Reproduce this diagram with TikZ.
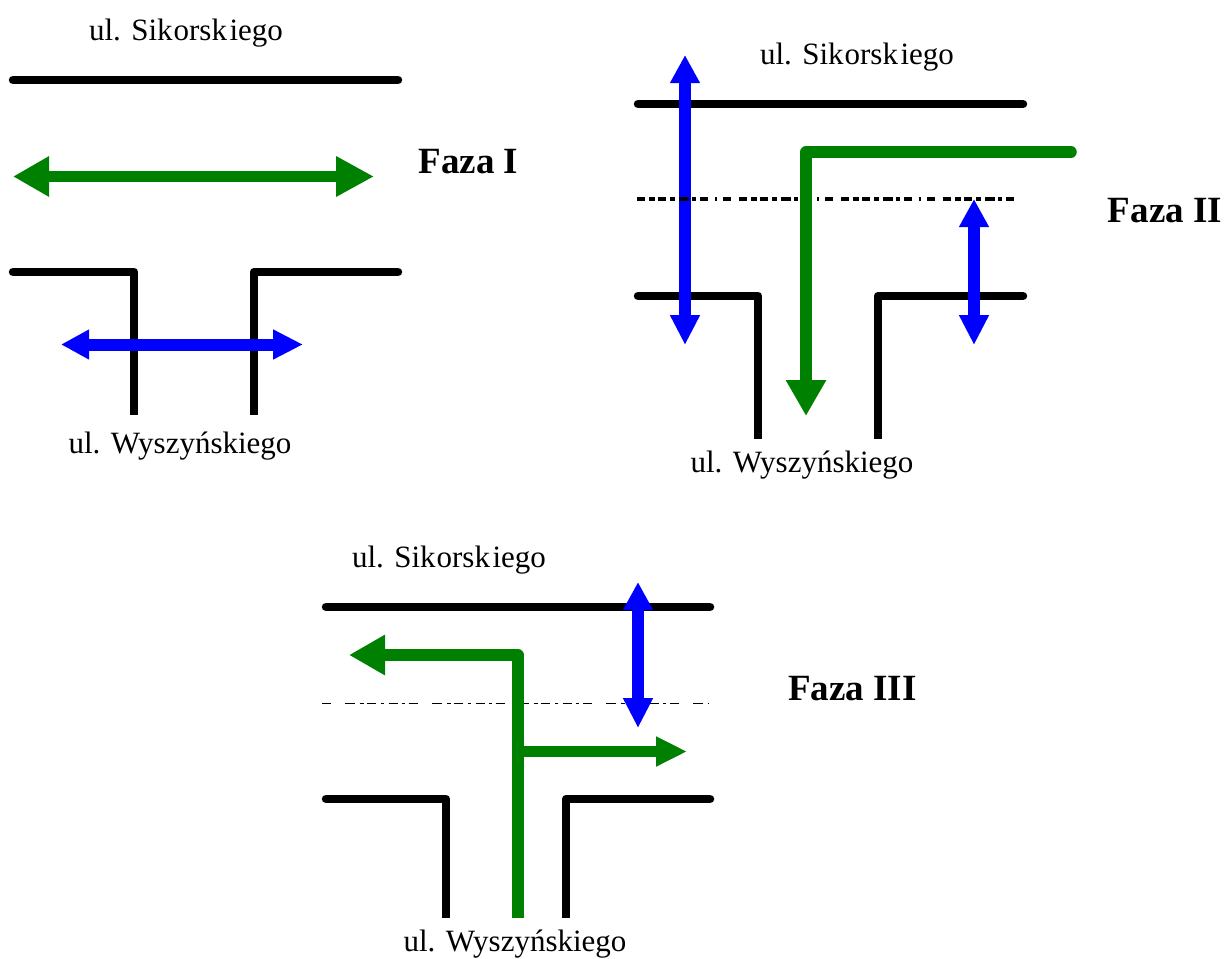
\documentclass[tikz,border=0pt]{standalone}
\usepackage{fontspec}
\setmainfont{Liberation Serif}
\usetikzlibrary{arrows.meta}
\definecolor{roadgreen}{RGB}{0,128,0}
\definecolor{roadblue}{RGB}{0,0,255}
\newcommand{\sikname}{ul. Sik\kern1pt orsk\kern2.5pt iego}
\tikzset{
  road/.style={line width=8.5pt,black,line cap=round,line join=round},
  roadend/.style={line width=8.5pt,black,line join=round},
  gflow/.style={line width=11.5pt,roadgreen,line join=round},
  gbig/.style={gflow,-{Triangle[length=36pt,width=38pt]}},
  gbigboth/.style={gflow,{Triangle[length=36pt,width=38pt]}-{Triangle[length=38pt,width=38pt]}},
  gsmall/.style={gflow,-{Triangle[length=31pt,width=28pt]}},
  bflow/.style={line width=12pt,roadblue,{Triangle[length=28pt,width=28pt]}-{Triangle[length=30pt,width=28pt]}},
  lbl/.style={font=\fontsize{31}{34}\selectfont,inner sep=0pt,anchor=center},
  phase/.style={font=\fontsize{37}{40}\selectfont\bfseries,inner sep=0pt,anchor=center},
  centre/.style={line width=1.6pt,black,dash pattern=on 9.5pt off 5pt on 4pt off 3pt on 9pt off 5pt on 3pt off 5pt on 9pt off 4pt on 3pt off 4pt on 9pt off 14.5pt,dash phase=64pt},
  centrethick/.style={line width=4pt,black,dash pattern=on 8pt off 4pt on 6pt off 3pt on 8pt off 4pt on 5pt off 4pt on 10pt off 3pt on 4pt off 4pt on 8pt off 7pt on 2pt off 6pt on 8pt off 8pt}
}
\begin{document}
\begin{tikzpicture}[x=1pt,y=-1pt]
\useasboundingbox (0,0) rectangle (1225,958);
% Faza I
\draw[road] (13,80) -- (398,80);
\draw[roadend] (13,272) -- (134,272) -- (134,415);
\draw[road] (13,272) -- (60,272);
\draw[roadend] (398,272) -- (254,272) -- (254,415);
\draw[road] (398,272) -- (350,272);
\draw[gbigboth] (13,176.5) -- (374,176.5);
\draw[bflow] (61,344.5) -- (303,344.5);
\node[lbl] (s1) at (186,33) {\sikname};
\node[lbl] (w1) at (180,446) {ul. Wyszyńskiego};
\node[phase] (f1) at (468.5,162) {Faza I};
% Faza II
\draw[road] (638,104) -- (1023,104);
\draw[roadend] (638,296) -- (758,296) -- (758,439);
\draw[road] (638,296) -- (680,296);
\draw[roadend] (1023,296) -- (878,296) -- (878,439);
\draw[road] (1023,296) -- (980,296);
\draw[bflow] (685,55) -- (685,345);
\draw[centrethick] (637,199) -- (1020,199);
\draw[gflow,line cap=round] (1071,152) -- (1000,152);
\draw[gbig] (1071,152) -- (806,152) -- (806,416);
\draw[bflow] (974,199) -- (974,345);
\node[lbl] (s2) at (857,57) {\sikname};
\node[lbl] (w2) at (802,465) {ul. Wyszyńskiego};
\node[phase] (f2) at (1165,211) {Faza II};
% Faza III
\draw[road] (326,607) -- (710,607);
\draw[roadend] (326,799) -- (446,799) -- (446,918);
\draw[road] (326,799) -- (380,799);
\draw[roadend] (710,799) -- (566,799) -- (566,918);
\draw[road] (710,799) -- (650,799);
\draw[centre] (322,703.5) -- (708,703.5);
\draw[gbig] (518,918) -- (518,655) -- (349,655);
\draw[gsmall] (518,751.5) -- (687,751.5);
\draw[bflow] (638,582) -- (638,728);
\node[lbl] (s3) at (449,560) {\sikname};
\node[lbl] (w3) at (515,944) {ul. Wyszyńskiego};
\node[phase] (f3) at (852.5,689) {Faza III};
\end{tikzpicture}
\end{document}
